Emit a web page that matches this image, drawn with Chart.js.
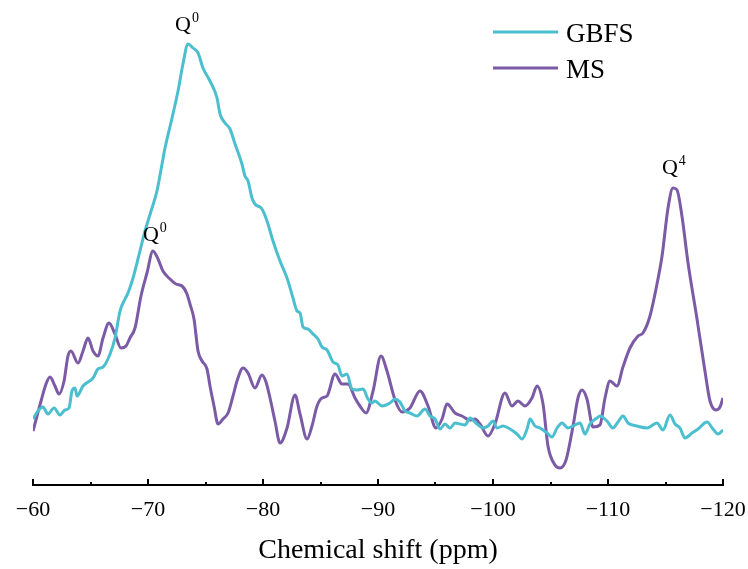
<!DOCTYPE html>
<html><head><meta charset="utf-8">
<script src="https://cdn.jsdelivr.net/npm/chart.js@4.4.1/dist/chart.umd.min.js"></script>
<style>html,body{margin:0;padding:0;background:#fff}#wrap{width:748px;height:569px;position:relative}</style>
</head><body><div id="wrap"><canvas id="c" width="748" height="569"></canvas></div>
<script>
// Chemical shift (ppm) and intensity (a.u.)
const gbfsShift=[-60.00,-60.43,-60.87,-61.30,-61.83,-62.35,-62.78,-63.13,-63.39,-63.65,-63.83,-64.35,-65.22,-65.65,-66.09,-66.70,-67.13,-67.57,-68.00,-68.26,-68.70,-69.30,-69.74,-70.35,-70.78,-71.22,-71.48,-72.09,-72.61,-73.04,-73.48,-73.91,-74.35,-74.78,-75.39,-76.00,-76.26,-76.70,-77.13,-77.57,-78.17,-78.43,-78.70,-79.04,-79.30,-79.91,-80.35,-80.87,-81.48,-82.09,-82.61,-82.96,-83.22,-83.48,-83.91,-84.35,-84.78,-85.13,-85.57,-86.09,-86.52,-86.87,-87.30,-87.74,-88.17,-88.70,-89.13,-89.48,-89.74,-90.35,-91.04,-91.48,-91.91,-92.35,-92.78,-93.39,-94.09,-94.52,-94.96,-95.39,-95.83,-96.26,-96.70,-97.13,-97.57,-98.00,-98.61,-99.13,-99.57,-100.00,-100.35,-100.87,-101.48,-102.09,-102.52,-102.96,-103.22,-103.65,-104.09,-104.70,-105.13,-105.57,-106.00,-106.52,-106.96,-107.57,-108.00,-108.43,-109.04,-109.30,-109.91,-110.43,-110.87,-111.30,-111.74,-112.52,-113.39,-114.26,-114.78,-115.39,-115.83,-116.26,-116.70,-117.30,-117.83,-118.61,-119.13,-119.57,-120.00];
const gbfsIntensity=[66,74,78,71,77,70,75,77,94,97,89,99,107,116,118,131,147,174,186,192,207,234,254,277,294,321,337,367,394,421,441,437,432,417,404,387,371,362,356,341,321,309,304,287,281,276,264,244,224,207,187,174,172,158,156,151,146,138,135,123,120,109,111,96,95,96,86,82,84,79,82,86,83,74,72,69,76,69,66,56,61,57,62,61,60,67,61,57,59,64,57,59,56,51,46,56,66,59,57,52,48,57,62,57,59,62,51,61,67,69,64,57,63,69,62,59,57,62,55,70,61,57,47,52,56,63,56,51,55];
const msShift=[-60.00,-60.35,-60.70,-61.13,-61.48,-61.91,-62.26,-62.70,-63.04,-63.30,-63.91,-64.35,-64.78,-65.22,-65.65,-66.09,-66.61,-67.13,-67.65,-68.09,-68.43,-68.87,-69.39,-69.91,-70.43,-70.87,-71.30,-71.91,-72.43,-72.96,-73.39,-73.65,-74.00,-74.35,-74.70,-75.13,-75.39,-75.74,-76.09,-76.52,-76.96,-77.39,-77.74,-78.26,-78.70,-79.30,-79.91,-80.26,-80.61,-81.04,-81.48,-82.09,-82.78,-83.22,-83.83,-84.26,-84.70,-85.13,-85.57,-86.26,-86.87,-87.39,-88.00,-88.43,-88.96,-89.57,-90.26,-90.78,-91.48,-92.09,-92.78,-93.65,-94.35,-95.04,-95.57,-96.00,-96.70,-97.30,-98.00,-98.43,-98.87,-99.57,-100.17,-101.04,-101.65,-102.17,-102.78,-103.39,-103.83,-104.35,-104.78,-105.39,-105.83,-106.35,-106.96,-107.39,-107.74,-108.17,-108.70,-109.30,-109.74,-110.17,-110.78,-111.30,-111.91,-112.61,-113.04,-113.65,-114.26,-114.70,-115.22,-115.65,-116.00,-116.43,-116.96,-117.74,-118.43,-118.87,-119.39,-119.74,-120.00];
const msIntensity=[54,69,84,101,108,99,91,104,129,134,122,134,147,134,129,147,162,151,137,139,147,157,189,212,234,226,214,206,201,199,191,181,166,134,124,116,99,79,61,66,72,89,104,117,112,97,110,103,87,64,42,57,90,71,46,59,79,87,89,111,101,101,87,79,72,94,129,114,85,73,77,94,79,57,66,81,72,69,65,66,61,49,61,92,79,84,79,87,99,81,39,20,17,25,59,87,95,86,58,60,87,104,99,118,137,149,152,169,201,229,277,297,295,269,222,166,114,84,75,78,87];
const xTickValues=[-60,-70,-80,-90,-100,-110,-120];
const seriesNames=['GBFS','MS'];
const seriesColors=['#4bbfcf','#7b5aa6'];
// peak annotations: series index, chemical shift of peak, superscript
const annotSeries=[0,1,1];
const annotShift=[-73.48,-70.43,-115.65];
const annotSup=['0','0','4'];

const SERIF="'Liberation Serif','Times New Roman',serif";

const decor={
  id:'decor',
  afterDraw(chart){
    const ctx=chart.ctx, xs=chart.scales.x, ys=chart.scales.y, ca=chart.chartArea;
    ctx.save();
    // inward ticks (major every 10, minor every 5)
    ctx.strokeStyle='#000'; ctx.lineWidth=2;
    for(let v=-60; v>=-120; v-=5){
      const px=Math.round(xs.getPixelForValue(v));
      const len=(v%10===0)?6:3;
      ctx.beginPath(); ctx.moveTo(px,ca.bottom); ctx.lineTo(px,ca.bottom-len); ctx.stroke();
    }
    // annotations
    const dx=[-13,-10,-11], dy=[13,10,14];
    ctx.fillStyle='#000'; ctx.textBaseline='alphabetic'; ctx.textAlign='left';
    annotSeries.forEach((s,i)=>{
      const sh = s===0?gbfsShift:msShift, it = s===0?gbfsIntensity:msIntensity;
      const k = sh.indexOf(annotShift[i]);
      const px = xs.getPixelForValue(annotShift[i]);
      const py = ys.getPixelForValue(it[k]);
      const x0 = px+dx[i], y0 = py-dy[i];
      ctx.font='22px '+SERIF;
      ctx.fillText('Q',x0,y0);
      const w=ctx.measureText('Q').width;
      ctx.font='14px '+SERIF;
      ctx.fillText(annotSup[i],x0+w+1,y0-9);
    });
    // legend
    const ly=[32,68];
    seriesNames.forEach((n,i)=>{
      ctx.strokeStyle=seriesColors[i]; ctx.lineWidth=3;
      ctx.beginPath(); ctx.moveTo(493,ly[i]); ctx.lineTo(558,ly[i]); ctx.stroke();
      ctx.fillStyle='#000'; ctx.font='27px '+SERIF; ctx.textBaseline='alphabetic';
      ctx.fillText(n,566,ly[i]+10);
    });
    ctx.restore();
  }
};

const mk=(sh,it)=>sh.map((x,i)=>({x:x,y:it[i]}));

new Chart(document.getElementById('c'),{
  type:'line',
  data:{datasets:[
    {label:seriesNames[0],data:mk(gbfsShift,gbfsIntensity),borderColor:seriesColors[0],borderWidth:3,pointRadius:0,cubicInterpolationMode:'monotone',fill:false},
    {label:seriesNames[1],data:mk(msShift,msIntensity),borderColor:seriesColors[1],borderWidth:3,pointRadius:0,cubicInterpolationMode:'monotone',fill:false}
  ]},
  options:{
    responsive:false, animation:false, devicePixelRatio:1,
    layout:{padding:{left:33,right:25,top:0,bottom:0}},
    plugins:{legend:{display:false},tooltip:{enabled:false}},
    scales:{
      x:{type:'linear',min:-120,max:-60,reverse:true,
        afterBuildTicks:(s)=>{s.ticks=xTickValues.map(v=>({value:v}));},
        ticks:{color:'#000',font:{family:SERIF,size:22},padding:0,maxRotation:0,autoSkip:false,
          callback:(v)=>'\u2212'+Math.abs(v)},
        grid:{display:false,drawTicks:true,tickLength:12},
        border:{display:true,color:'#000',width:2},
        title:{display:true,text:'Chemical shift (ppm)',color:'#000',font:{family:SERIF,size:28},padding:{top:10,bottom:2}}
      },
      y:{display:false,min:0,max:485}
    }
  },
  plugins:[decor]
});
</script></body></html>
